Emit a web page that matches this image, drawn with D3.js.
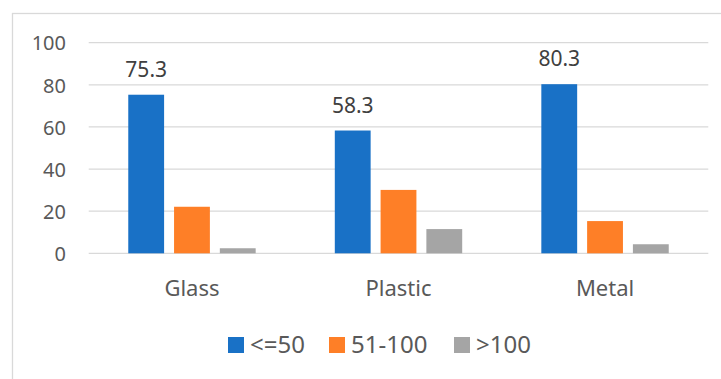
<!DOCTYPE html>
<html><head><meta charset="utf-8">
<script src="https://cdn.jsdelivr.net/npm/d3@7"></script>
<style>body{margin:0;background:#fff}svg{display:block;font-family:"Noto Sans",sans-serif}</style>
</head><body><svg id="c" width="721" height="379"></svg>
<script>
const categories = ["Glass", "Plastic", "Metal"];
const seriesNames = ["<=50", "51-100", ">100"];
const valuesLe50 = [75.3, 58.3, 80.3];
const values51to100 = [22.1, 30.1, 15.3];
const valuesGt100 = [2.4, 11.5, 4.3];
const yTicks = [0, 20, 40, 60, 80, 100];
const colors = ["#1971c6", "#fe7f27", "#a5a5a5"];

const seriesValues = [valuesLe50, values51to100, valuesGt100];
const svg = d3.select("#c");
const plotLeft = 88.7, plotRight = 708.3, plotTop = 42.7, plotBottom = 253.3;

svg.append("rect").attr("x", 12.5).attr("y", 13.5).attr("width", 720).attr("height", 380)
  .attr("fill", "none").attr("stroke", "#d9d9d9").attr("stroke-width", 1.3);

const y = d3.scaleLinear().domain([0, 100]).range([plotBottom, plotTop]);
const x0 = d3.scaleBand().domain(categories).range([plotLeft, plotRight]);
const groupW = 127.4;
const x1 = d3.scaleBand().domain(seriesNames).range([0, groupW]).paddingInner(0.2174);

// gridlines
svg.append("g").selectAll("line").data(yTicks).join("line")
  .attr("x1", plotLeft).attr("x2", plotRight)
  .attr("y1", d => y(d)).attr("y2", d => y(d))
  .attr("stroke", "#d9d9d9").attr("stroke-width", 1.3);

// y axis labels
const yAxis = d3.axisLeft(y).tickValues(yTicks).tickSize(0).tickPadding(0);
const ya = svg.append("g").attr("transform", `translate(66,0)`).call(yAxis);
ya.select(".domain").remove();
ya.selectAll("text").attr("font-size", 20).attr("fill", "#595959").attr("font-family", "Noto Sans").attr("dy", "0.36em");

// x axis labels
const xAxis = d3.axisBottom(x0).tickSize(0).tickPadding(0);
const xa = svg.append("g").attr("transform", `translate(0,${plotBottom})`).call(xAxis);
xa.select(".domain").remove();
xa.selectAll("text").attr("font-size", 22).attr("fill", "#595959").attr("font-family", "Noto Sans")
  .attr("dy", null).attr("y", 43);

// bars
const groups = svg.append("g").selectAll("g").data(categories).join("g")
  .attr("transform", c => `translate(${x0(c) + x0.bandwidth() / 2 - groupW / 2},0)`);
groups.selectAll("rect").data((c, i) => seriesNames.map((s, j) => ({s, j, v: seriesValues[j][i]})))
  .join("rect")
  .attr("x", d => x1(d.s)).attr("width", x1.bandwidth())
  .attr("y", d => y(d.v)).attr("height", d => y(0) - y(d.v))
  .attr("fill", d => colors[d.j]);

// data labels for first series
groups.append("text")
  .attr("x", x1(seriesNames[0]) + x1.bandwidth() / 2)
  .attr("y", (c, i) => y(valuesLe50[i]) - 18)
  .attr("text-anchor", "middle").attr("font-size", 21).attr("fill", "#404040")
  .text((c, i) => valuesLe50[i].toFixed(1));

// legend
const legendX = [228, 329, 454];
const lg = svg.append("g").selectAll("g").data(seriesNames).join("g")
  .attr("transform", (d, i) => `translate(${legendX[i]},337)`);
lg.append("rect").attr("width", 16).attr("height", 16).attr("fill", (d, i) => colors[i]);
lg.append("text").attr("x", 22).attr("y", 16).attr("font-size", 24).attr("fill", "#595959").text(d => d);
</script></body></html>
